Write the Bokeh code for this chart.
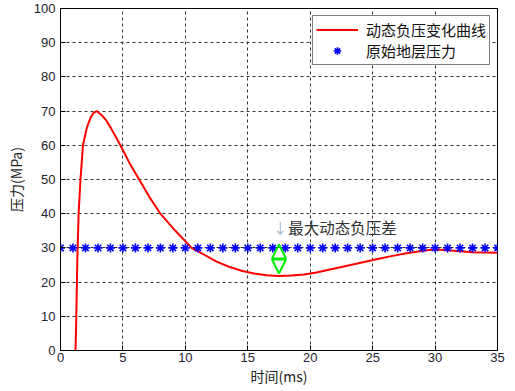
from bokeh.plotting import figure
from bokeh.models import FixedTicker, Label, Arrow, NormalHead, Legend, LegendItem, Range1d
from bokeh.embed import file_html
from bokeh.resources import INLINE

# ---- data ----
t_curve = [1.2, 1.25, 1.3, 1.35, 1.45, 1.6, 1.8, 2.1, 2.4, 2.65, 2.9, 3.3, 3.66, 4.0,
           4.8, 5.5, 6.3, 7.1, 8.0, 9.2, 10.5, 11.5, 12.5, 13.5, 14.5, 15.5, 16.5,
           17.5, 18.5, 19.5, 20.5, 21.5, 22.5, 23.5, 24.5, 25.5, 26.5, 27.5, 28.5,
           29.5, 30.2, 31.0, 32.0, 33.0, 35.0]
p_curve = [0, 7, 17, 27, 40, 50, 60, 65, 68, 69.5, 70, 68.8, 67.3, 65.3,
           60, 55, 50, 45, 40, 35, 30, 28, 26, 24.5, 23.3, 22.5, 22,
           21.8, 21.9, 22.2, 22.8, 23.6, 24.4, 25.2, 26, 26.8, 27.6, 28.3, 28.9,
           29.4, 29.5, 29.3, 29.0, 28.7, 28.6]
t_star = list(range(0, 36))
p_star = [30] * len(t_star)
x_ticks = [0, 5, 10, 15, 20, 25, 30, 35]
y_ticks = [0, 10, 20, 30, 40, 50, 60, 70, 80, 90, 100]
gap_t = 17.5
gap_top = 31
gap_bottom = 22.5
note_y = 36

CJK = "Noto Sans CJK SC"
LAT = "Liberation Sans"

p = figure(frame_width=437, frame_height=342, output_backend="svg", toolbar_location=None,
           x_range=Range1d(0, 35), y_range=Range1d(0, 100),
           min_border_left=60, min_border_right=17, min_border_top=8, min_border_bottom=40)
p.outline_line_color = "black"
p.outline_line_width = 1

for ax in (p.xaxis, p.yaxis):
    ax.major_tick_in = 5
    ax.major_tick_out = 0
    ax.minor_tick_line_color = None
    ax.axis_line_color = "black"
    ax.major_tick_line_color = "black"
    ax.major_label_text_font = LAT
    ax.major_label_text_font_size = "13px"
    ax.major_label_text_color = "#222233"
    ax.axis_label_text_font = CJK
    ax.axis_label_text_font_size = "14px"
    ax.axis_label_text_font_style = "normal"
    ax.axis_label_text_color = "#222222"

p.xaxis.ticker = FixedTicker(ticks=x_ticks)
p.yaxis.ticker = FixedTicker(ticks=y_ticks)
p.xaxis.axis_label = "时间(ms)"
p.yaxis.axis_label = "压力(MPa)"
p.xaxis.major_label_standoff = 2
p.yaxis.major_label_standoff = 5
p.xaxis.axis_label_standoff = 1
p.yaxis.axis_label_standoff = 5

for g in (p.xgrid, p.ygrid):
    g.grid_line_color = "#333333"
    g.grid_line_dash = "3 3"
    g.grid_line_width = 1
p.xgrid.ticker = FixedTicker(ticks=x_ticks)
p.ygrid.ticker = FixedTicker(ticks=y_ticks)

r1 = p.line(t_curve, p_curve, line_color="#ff0000", line_width=2)
r2 = p.scatter(t_star, p_star, marker="asterisk", size=9, line_color="#0000ff", line_width=1.6)

arrow = Arrow(x_start=gap_t, y_start=gap_bottom, x_end=gap_t, y_end=gap_top,
              line_color="#00ee00", line_width=1.5,
              start=NormalHead(size=14, line_color="#00ee00", line_width=2, fill_alpha=0),
              end=NormalHead(size=14, line_color="#00ee00", line_width=2, fill_alpha=0))
p.add_layout(arrow)

p.add_layout(Label(x=gap_t + 0.1, y=note_y, text="↓", text_align="center", text_baseline="middle",
                   text_font=CJK, text_font_size="14px", text_color="#a0b4c8"))
p.add_layout(Label(x=gap_t + 0.75, y=note_y, text="最大动态负压差", text_align="left",
                   text_baseline="middle", text_font=CJK, text_font_size="15.5px",
                   text_color="#333333"))

legend = Legend(items=[LegendItem(label="动态负压变化曲线", renderers=[r1]),
                       LegendItem(label="原始地层压力", renderers=[r2])],
                location="top_right")
legend.margin = 7
legend.padding = 3
legend.spacing = 0
legend.glyph_width = 42
legend.glyph_height = 19
legend.label_height = 19
legend.label_standoff = 8
legend.label_text_font = CJK
legend.label_text_font_size = "15px"
legend.label_text_color = "#111111"
legend.border_line_color = "black"
legend.border_line_width = 1
legend.background_fill_alpha = 1
p.add_layout(legend)

open("out.html", "w").write(file_html(p, INLINE))
